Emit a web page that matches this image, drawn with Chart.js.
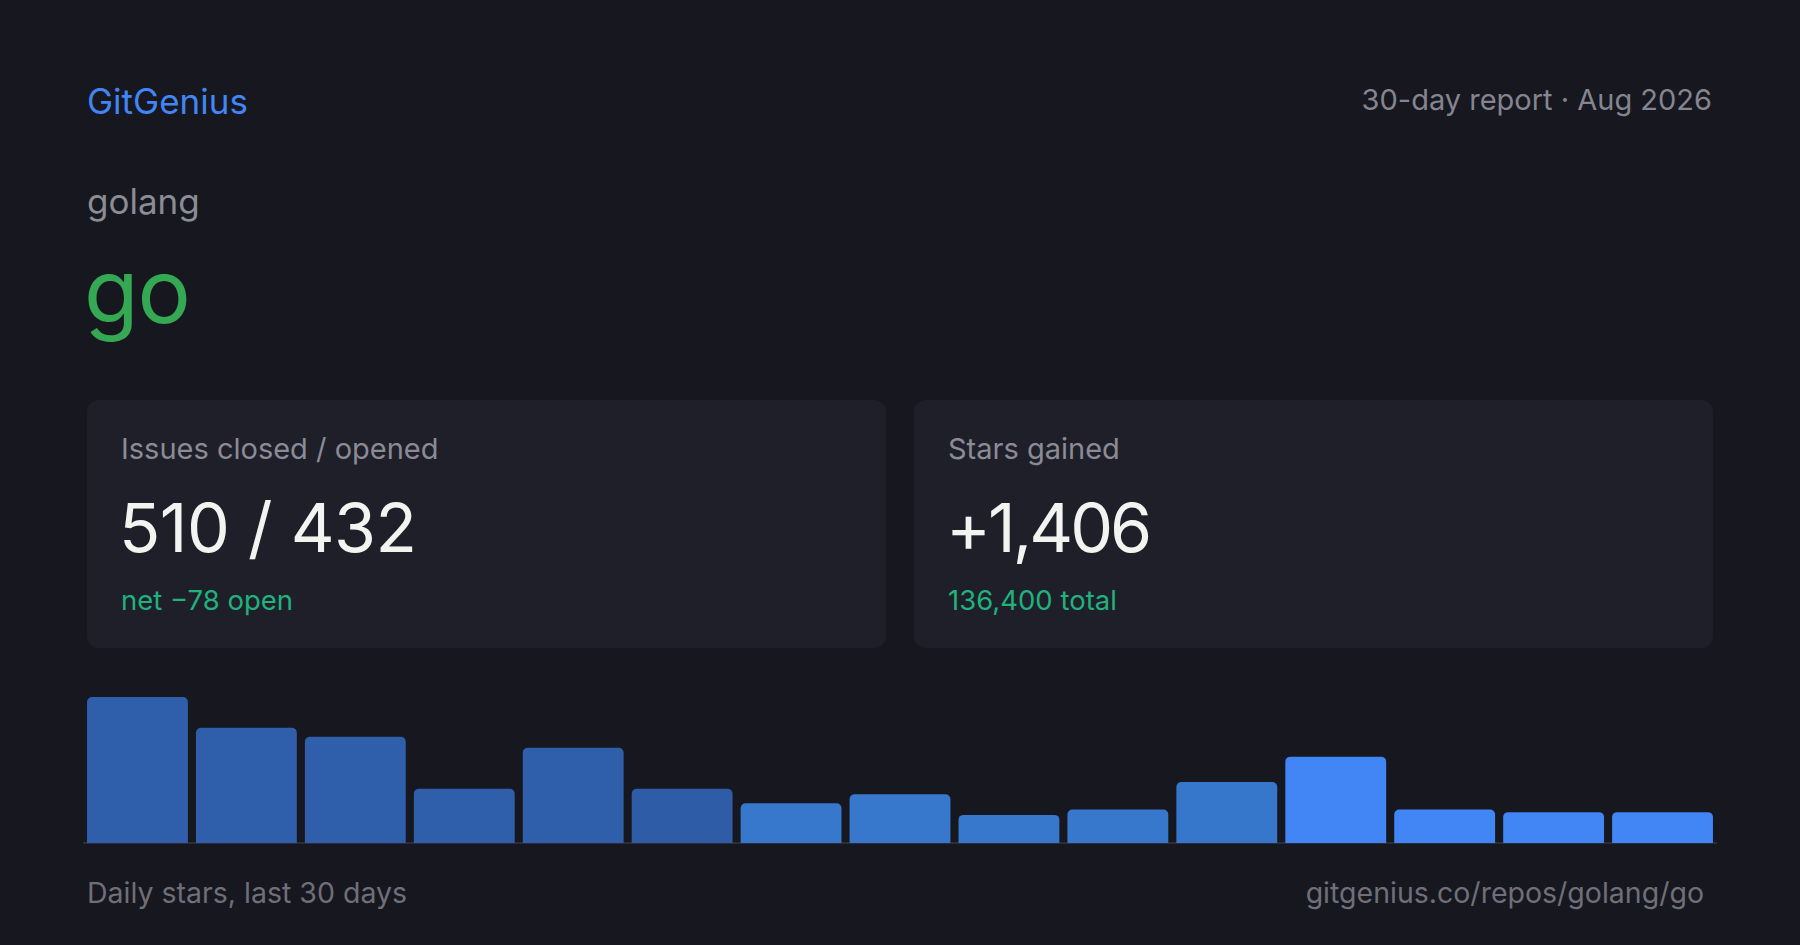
<!DOCTYPE html>
<html>
<head>
<meta charset="utf-8">
<script src="https://cdn.jsdelivr.net/npm/chart.js@4.4.1/dist/chart.umd.min.js"></script>
<style>
  html, body { margin: 0; padding: 0; }
  body { width: 1800px; height: 945px; background: #16171f; font-family: Inter, "Noto Sans", sans-serif; position: relative; overflow: hidden; }
  .abs { position: absolute; white-space: nowrap; line-height: 1; }
  .brand { left: 87px; top: 84px; font-size: 35px; color: #4285f4; }
  .period { right: 88px; top: 85px; font-size: 29px; color: #85858f; }
  .owner { left: 87px; top: 184px; font-size: 35px; color: #8c8c95; }
  .repo { left: 84px; top: 246px; font-size: 89px; color: #34a853; letter-spacing: -1px; }
  .card { position: absolute; top: 400px; width: 799px; height: 248px; background: #1f1f2a; border-radius: 12px; }
  .card .label { left: 34px; top: 34px; font-size: 29px; color: #8b8b95; }
  .card .value { left: 32px; top: 93px; font-size: 68px; color: #f3f3f0; letter-spacing: -0.5px; }
  .card .sub { left: 34px; top: 187px; font-size: 27.5px; color: #1fb27d; }
  .foot { top: 879px; font-size: 28.5px; color: #6f6f79; }
  #chartBox { position: absolute; left: 83px; top: 697px; width: 1634px; height: 154px; }
</style>
</head>
<body>
<div class="abs brand">GitGenius</div>
<div class="abs period">30-day report · Aug 2026</div>
<div class="abs owner">golang</div>
<div class="abs repo">go</div>

<div class="card" style="left:87px">
  <div class="abs label">Issues closed / opened</div>
  <div class="abs value">510 / 432</div>
  <div class="abs sub">net −78 open</div>
</div>
<div class="card" style="left:914px">
  <div class="abs label">Stars gained</div>
  <div class="abs value" style="letter-spacing:-3px">+1,406</div>
  <div class="abs sub">136,400 total</div>
</div>

<div id="chartBox"><canvas id="starsChart"></canvas></div>

<div class="abs foot" style="left:87px">Daily stars, last 30 days</div>
<div class="abs foot" style="right:96px">gitgenius.co/repos/golang/go</div>

<script>
// stars per 2-day bucket, oldest first
const buckets = ['1-2', '3-4', '5-6', '7-8', '9-10', '11-12', '13-14', '15-16', '17-18', '19-20', '21-22', '23-24', '25-26', '27-28', '29-30'];
const stars = [213, 168, 155, 79, 139, 79, 58, 71, 41, 49, 89, 126, 49, 45, 45];
const barColors = ['#2f5faa', '#2f5faa', '#2f5faa', '#2f5faa', '#2f5faa', '#2e5ca6',
    '#3777cc', '#3778cd', '#3778cd', '#3778cd', '#3777cb',
    '#4285f4', '#4285f4', '#4285f4', '#4285f4'];

document.addEventListener('DOMContentLoaded', function () {
    const ctx = document.getElementById('starsChart').getContext('2d');
    new Chart(ctx, {
        type: 'bar',
        data: {
            labels: buckets,
            datasets: [{
                label: 'Stars',
                data: stars,
                backgroundColor: barColors,
                borderRadius: 5,
                borderSkipped: 'start',
                barPercentage: 0.926,
                categoryPercentage: 1
            }]
        },
        options: {
            responsive: true,
            maintainAspectRatio: false,
            animation: false,
            layout: { padding: 0 },
            plugins: {
                legend: { display: false },
                tooltip: { enabled: false }
            },
            scales: {
                x: {
                    grid: { display: false },
                    ticks: { display: false },
                    border: { display: true, color: '#2b2c38', width: 2 }
                },
                y: {
                    display: false,
                    min: 0,
                    max: Math.max(...stars)
                }
            }
        }
    });
});
</script>
</body>
</html>
